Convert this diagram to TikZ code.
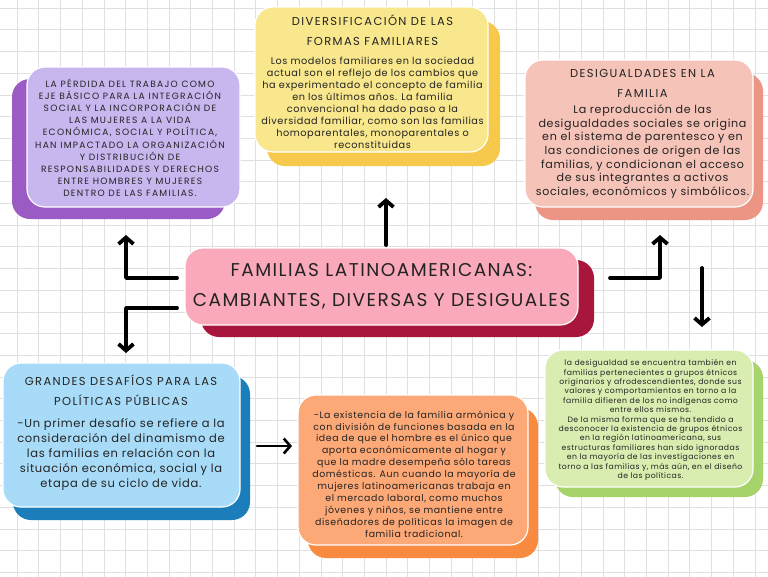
\documentclass[tikz,border=0pt]{standalone}
\usepackage{fontspec}
\setmainfont{Poppins}
\newfontfamily\headfont[LetterSpace=12]{Poppins}
\newfontfamily\capsfont[LetterSpace=14]{Poppins}
\newfontfamily\titlefont[LetterSpace=8]{Poppins}
\newfontfamily\bodyfont[LetterSpace=6]{Poppins}
\usetikzlibrary{arrows.meta,positioning,shadows}
\definecolor{lilacfront}{HTML}{C8B6EF}
\definecolor{lilacback}{HTML}{9A5BC4}
\definecolor{lemonfront}{HTML}{F8E78C}
\definecolor{lemonback}{HTML}{F6C84C}
\definecolor{salmonfront}{HTML}{F5C3B8}
\definecolor{salmonback}{HTML}{EC9585}
\definecolor{rosefront}{HTML}{F9A9B9}
\definecolor{roseback}{HTML}{A9163B}
\definecolor{skyfront}{HTML}{A8DBF8}
\definecolor{skyback}{HTML}{1B7EBA}
\definecolor{peachfront}{HTML}{FCA977}
\definecolor{peachback}{HTML}{F98B40}
\definecolor{limefront}{HTML}{D9EDB0}
\definecolor{limeback}{HTML}{A6D46A}
\definecolor{inkgray}{HTML}{232323}
\definecolor{gridgray}{HTML}{E0E0E0}

\tikzset{
  card/.style={rounded corners=18pt, draw=white, line width=1.2pt, inner sep=0pt},
  headtext/.style={align=center, inner sep=0pt, text=inkgray, font=\headfont\fontsize{11.5}{20}\selectfont},
  bodytext/.style={align=center, inner sep=0pt, text=inkgray},
  bigarrow/.style={line width=3.8pt, line cap=round, line join=round, -{Straight Barb[length=6.5pt,width=15pt]}},
}

\begin{document}
\begin{tikzpicture}[x=1pt, y=-1pt]
\useasboundingbox (0,0) rectangle (768,576);
\fill[white] (0,0) rectangle (768,576);
% background grid
\begin{scope}
  \clip (0,0) rectangle (768,576);
  \draw[gridgray, line width=0.6pt, step=21.7pt, xshift=17pt, yshift=-8pt] (-30,600) grid (800,-30);
\end{scope}

% cards
\node[card, fill=lilacfront, minimum width=213pt, minimum height=140pt,
  drop shadow={shadow xshift=-15pt, shadow yshift=-12pt, fill=lilacback, opacity=1}] (perdida) at (133.5,137) {};
\node[card, fill=lemonfront, minimum width=233pt, minimum height=145pt,
  drop shadow={shadow xshift=12pt, shadow yshift=-14pt, fill=lemonback, opacity=1}] (diversif) at (371.5,79.5) {};
\node[card, fill=salmonfront, minimum width=228pt, minimum height=147pt,
  drop shadow={shadow xshift=10pt, shadow yshift=-13pt, fill=salmonback, opacity=1}] (desig) at (639,133.5) {};
\node[card, fill=skyfront, minimum width=237pt, minimum height=144pt,
  drop shadow={shadow xshift=10pt, shadow yshift=-13pt, fill=skyback, opacity=1}] (desafios) at (121.5,435) {};
\node[card, fill=peachfront, minimum width=230pt, minimum height=150pt,
  drop shadow={shadow xshift=10pt, shadow yshift=-13pt, fill=peachback, opacity=1}] (armonica) at (413,470) {};
\node[card, fill=limefront, minimum width=208pt, minimum height=137pt,
  drop shadow={shadow xshift=10pt, shadow yshift=-10pt, fill=limeback, opacity=1}] (etnicos) at (649,418.5) {};
% central title
\node[card, fill=rosefront, minimum width=393pt, minimum height=77pt, align=center, text=inkgray,
  font=\titlefont\fontsize{18.5}{30}\selectfont,
  drop shadow={shadow xshift=16pt, shadow yshift=-12pt, fill=roseback, opacity=1}] (familias) at (381.5,286.5)
  {FAMILIAS LATINOAMERICANAS:\\CAMBIANTES, DIVERSAS Y DESIGUALES};

% texts
\node[bodytext, anchor=north, font=\capsfont\fontsize{9.1}{12.2}\selectfont] (perdidatxt) at (130,78.5)
  {LA PÉRDIDA DEL TRABAJO COMO\\EJE BÁSICO PARA LA INTEGRACIÓN\\SOCIAL Y LA INCORPORACIÓN DE\\LAS MUJERES A LA VIDA\\ECONÓMICA, SOCIAL Y POLÍTICA,\\HAN IMPACTADO LA ORGANIZACIÓN\\Y DISTRIBUCIÓN DE\\RESPONSABILIDADES Y DERECHOS\\ENTRE HOMBRES Y MUJERES\\DENTRO DE LAS FAMILIAS.};

\node[headtext, anchor=north] (diversiftit) at (372.5,14.5) {DIVERSIFICACIÓN DE LAS\\FORMAS FAMILIARES};
\node[bodytext, below=11.5pt of diversiftit, font=\bodyfont\fontsize{9.7}{11.9}\selectfont] (diversiftxt)
  {Los modelos familiares en la sociedad\\actual son el reflejo de los cambios que\\ha experimentado el concepto de familia\\en los últimos años. La familia\\convencional ha dado paso a la\\diversidad familiar, como son las familias\\homoparentales, monoparentales o\\reconstituidas};

\node[headtext, anchor=north] (desigtit) at (642.5,69) {DESIGUALDADES EN LA\\FAMILIA};
\node[bodytext, below=7pt of desigtit, font=\bodyfont\fontsize{11.1}{13.7}\selectfont] (desigtxt)
  {La reproducción de las\\desigualdades sociales se origina\\en el sistema de parentesco y en\\las condiciones de origen de las\\familias, y condicionan el acceso\\de sus integrantes a activos\\sociales, económicos y simbólicos.};

\node[headtext, anchor=north] (desafiostit) at (121,374.5) {GRANDES DESAFÍOS PARA LAS\\POLÍTICAS PÚBLICAS};
\node[bodytext, below=13pt of desafiostit, font=\bodyfont\fontsize{11.5}{14.8}\selectfont] (desafiostxt)
  {-Un primer desafío se refiere a la\\consideración del dinamismo de\\las familias en relación con la\\situación económica, social y la\\etapa de su ciclo de vida.};

\node[bodytext, anchor=north, font=\bodyfont\fontsize{9.4}{11.9}\selectfont] (armonicatxt) at (414,410.5)
  {-La existencia de la familia armónica y\\con división de funciones basada en la\\idea de que el hombre es el único que\\aporta económicamente al hogar y\\que la madre desempeña sólo tareas\\domésticas. Aun cuando la mayoría de\\mujeres latinoamericanas trabaja en\\el mercado laboral, como muchos\\jóvenes y niños, se mantiene entre\\diseñadores de políticas la imagen de\\familia tradicional.};

\node[bodytext, anchor=north, font=\bodyfont\fontsize{7.7}{9.4}\selectfont] (etnicostxt) at (650.5,359.5)
  {la desigualdad se encuentra también en\\familias pertenecientes a grupos étnicos\\originarios y afrodescendientes, donde sus\\valores y comportamientos en torno a la\\familia difieren de los no indígenas como\\entre ellos mismos.\\De la misma forma que se ha tendido a\\desconocer la existencia de grupos étnicos\\en la región latinoamericana, sus\\estructuras familiares han sido ignoradas\\en la mayoría de las investigaciones en\\torno a las familias y, más aún, en el diseño\\de las políticas.};

% arrows
\coordinate (upfrom) at (386,245);
\coordinate (upto) at (386,198);
\coordinate (leftupfrom) at (177,278);
\coordinate (leftupto) at (126,235);
\coordinate (leftdownfrom) at (177,308);
\coordinate (leftdownto) at (126,353);
\coordinate (rightupfrom) at (610,278);
\coordinate (rightupto) at (660,235);
\coordinate (downfrom) at (702,268);
\coordinate (downto) at (702,327);
\coordinate (sidefrom) at (257,446);
\coordinate (sideto) at (292,446);
\draw[bigarrow] (upfrom) -- (upto);
\draw[bigarrow] (leftupfrom) -| (leftupto);
\draw[bigarrow] (leftdownfrom) -| (leftdownto);
\draw[bigarrow] (rightupfrom) -| (rightupto);
\draw[bigarrow] (downfrom) -- (downto);
\draw[bigarrow, line width=2.6pt] (sidefrom) -- (sideto);
\end{tikzpicture}
\end{document}
